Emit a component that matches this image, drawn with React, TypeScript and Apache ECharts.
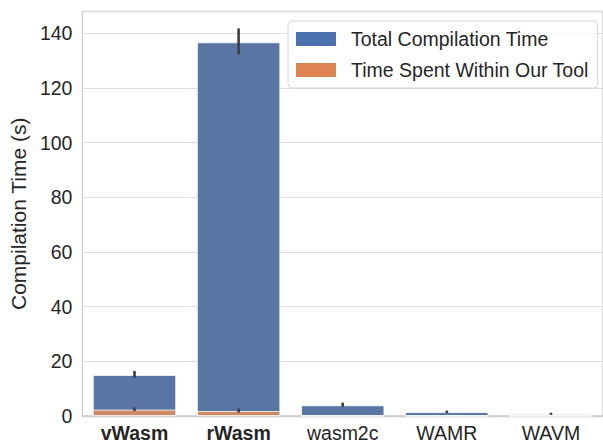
import React, { useEffect, useRef } from "react";
import * as echarts from "echarts";

const categories = ["vWasm", "rWasm", "wasm2c", "WAMR", "WAVM"];
const boldCategories = ["vWasm", "rWasm"];
const totalTime = [15.0, 136.7, 3.9, 1.4, 0.7];
const totalLow = [14.0, 132.3, 3.4, 1.1, 0.4];
const totalHigh = [16.5, 141.8, 4.9, 2.0, 1.2];
const toolTime = [2.3, 1.8, 0, 0, 0];
const toolLow: (number | null)[] = [1.8, 1.3, null, null, null];
const toolHigh: (number | null)[] = [3.1, 2.7, null, null, null];
const seriesNames = ["Total Compilation Time", "Time Spent Within Our Tool"];
const yTicks = { min: 0, max: 148, interval: 20 };

const FONT = "'Liberation Sans', Arial, sans-serif";
const TEXT = "#262626";
const FS = 19.5;

function errSeries(low: (number | null)[], high: (number | null)[]) {
  const data = categories
    .map((c, i) => [i, low[i], high[i]])
    .filter((d) => d[1] != null && d[2] != null);
  return {
    type: "custom",
    silent: true,
    z: 10,
    data,
    renderItem: (params: any, api: any) => {
      const x = api.value(0);
      const p1 = api.coord([x, api.value(1)]);
      const p2 = api.coord([x, api.value(2)]);
      return {
        type: "line",
        shape: { x1: p1[0], y1: p1[1], x2: p2[0], y2: p2[1] },
        style: { stroke: "#3f3f3f", lineWidth: 2.6 },
      };
    },
  };
}

export default function App() {
  const ref = useRef<HTMLDivElement>(null);
  useEffect(() => {
    document.body.style.margin = "0";
    const chart = echarts.init(ref.current!, null, { renderer: "svg" });
    chart.setOption({
      animation: false,
      backgroundColor: "#ffffff",
      textStyle: { fontFamily: FONT },
      grid: {
        left: 78,
        top: 11.5,
        width: 528,
        height: 405,
        show: true,
        borderColor: "#cccccc",
        borderWidth: 1.3,
      },
      legend: {
        left: 288,
        top: 21,
        orient: "vertical",
        itemWidth: 40,
        itemHeight: 14,
        itemGap: 11,
        padding: [8, 9, 8, 8],
        borderColor: "#d6d6d6",
        borderWidth: 1,
        borderRadius: 4,
        backgroundColor: "rgba(255,255,255,0.8)",
        textStyle: { fontSize: FS, color: TEXT, fontFamily: FONT, padding: [0, 0, 0, 10] },
        data: [
          { name: seriesNames[0], icon: "rect", itemStyle: { color: "#4c72b0", borderWidth: 0 } },
          { name: seriesNames[1], icon: "rect", itemStyle: { color: "#dd8452", borderWidth: 0 } },
        ],
      },
      xAxis: {
        type: "category",
        data: categories,
        axisLine: { show: true, lineStyle: { color: "#cccccc", width: 1.3 } },
        axisTick: { show: false },
        splitLine: { show: false },
        axisLabel: {
          interval: 0,
          fontSize: FS,
          color: TEXT,
          fontFamily: FONT,
          margin: 7,
          formatter: (v: string) => (boldCategories.includes(v) ? `{b|${v}}` : v),
          rich: { b: { fontWeight: "bold", fontSize: FS, color: TEXT, fontFamily: FONT } },
        },
      },
      yAxis: {
        type: "value",
        min: yTicks.min,
        max: yTicks.max,
        interval: yTicks.interval,
        name: "Compilation Time (s)",
        nameLocation: "middle",
        nameGap: 48,
        nameTextStyle: { fontSize: 21, color: TEXT, fontFamily: FONT },
        axisLine: { show: false },
        axisTick: { show: false },
        axisLabel: {
          fontSize: FS,
          color: TEXT,
          fontFamily: FONT,
          margin: 10,
          showMaxLabel: false,
          formatter: (v: number) => (v % 20 === 0 ? String(v) : ""),
        },
        splitLine: { lineStyle: { color: "#dddddd", width: 1.2 } },
      },
      series: [
        {
          name: seriesNames[0],
          type: "bar",
          data: totalTime,
          barWidth: "80%",
          barGap: "-100%",
          itemStyle: { color: "#5875a3", borderColor: "#ffffff", borderWidth: 0.8 },
        },
        {
          name: seriesNames[1],
          type: "bar",
          data: toolTime,
          barWidth: "80%",
          barGap: "-100%",
          itemStyle: { color: "#cc8963", borderColor: "#ffffff", borderWidth: 0.8 },
        },
        errSeries(totalLow, totalHigh),
        errSeries(toolLow, toolHigh),
      ],
    });
    return () => chart.dispose();
  }, []);
  return <div ref={ref} style={{ width: 603, height: 443 }} />;
}
